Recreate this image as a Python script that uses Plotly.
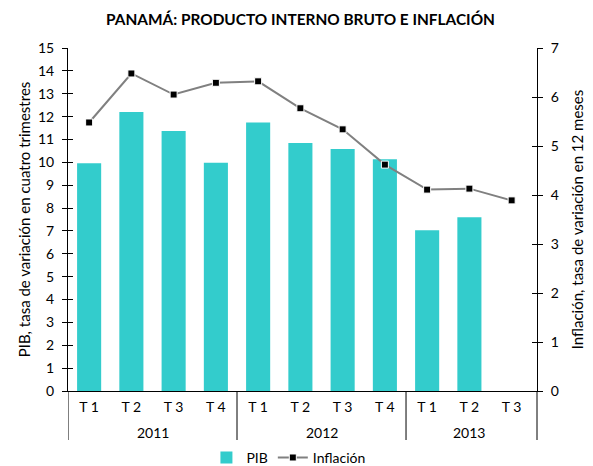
import plotly.graph_objects as go

years = ["2011"] * 4 + ["2012"] * 4 + ["2013"] * 3
quarters = ["T 1", "T 2", "T 3", "T 4", "T 1", "T 2", "T 3", "T 4", "T 1", "T 2", "T 3"]
pib = [9.96, 12.2, 11.37, 9.98, 11.74, 10.85, 10.58, 10.13, 7.03, 7.6, None]
inflacion = [5.48, 6.48, 6.05, 6.29, 6.32, 5.77, 5.34, 4.62, 4.11, 4.13, 3.89]

font_family = "Lato, 'Open Sans', sans-serif"

# page has an 8px body margin, so the figure is drawn 8px smaller and offset
W, H = 585, 458
plot_h = H - 40 - 75

idx = list(range(len(quarters)))

fig = go.Figure()
fig.add_trace(go.Bar(
    x=idx, y=pib, name="PIB",
    marker=dict(color="#33CCCC", line=dict(width=0)),
    width=0.57,
    yaxis="y",
))
fig.add_trace(go.Scatter(
    x=idx, y=inflacion, name="Inflación",
    mode="lines+markers",
    line=dict(color="#808080", width=2),
    marker=dict(symbol="square", size=7, color="black", line=dict(color="white", width=1)),
    yaxis="y2",
))

# year group labels and dividers
annotations = []
shapes = []
groups = []
for i, yv in enumerate(years):
    if not groups or groups[-1][0] != yv:
        groups.append([yv, i, i])
    else:
        groups[-1][2] = i
div_bottom = -(440 - 391) / plot_h
for name, a, b in groups:
    annotations.append(dict(
        x=(a + b) / 2, y=-(432 - 391) / plot_h, xref="x", yref="paper",
        text=name, showarrow=False, xanchor="center", yanchor="middle",
        font=dict(size=14, family=font_family, color="black"),
    ))
    shapes.append(dict(type="line", xref="x", yref="paper",
                       x0=a - 0.5, x1=a - 0.5, y0=0, y1=div_bottom,
                       line=dict(color="black", width=1)))
shapes.append(dict(type="line", xref="paper", yref="paper",
                   x0=1, x1=1, y0=0, y1=div_bottom,
                   line=dict(color="black", width=1)))

fig.update_layout(
    width=W, height=H,
    margin=dict(l=60, r=56, t=40, b=75, autoexpand=False),
    paper_bgcolor="white", plot_bgcolor="white",
    font=dict(family=font_family, size=14, color="black"),
    title=dict(text="<b>PANAMÁ: PRODUCTO INTERNO BRUTO E INFLACIÓN</b>",
               x=0.5, xanchor="center", y=1 - 12 / H, yanchor="middle",
               font=dict(size=15.4, family=font_family)),
    showlegend=True,
    legend=dict(orientation="h", x=0.47, xanchor="center", y=-0.195, yanchor="middle",
                font=dict(size=14), traceorder="normal", itemwidth=30),
    annotations=annotations,
    shapes=shapes,
    xaxis=dict(
        range=[-0.5, 10.6], automargin=False,
        tickvals=idx, ticktext=quarters,
        showline=True, linecolor="black", linewidth=1,
        ticks="", ticklabelstandoff=3,
        tickfont=dict(size=14),
        showgrid=False, zeroline=False,
    ),
    yaxis=dict(
        range=[0, 15], dtick=1, showgrid=False, zeroline=False, automargin=False,
        showline=True, linecolor="black", linewidth=1,
        ticks="inside", ticklen=5, tickcolor="black", ticklabelstandoff=10,
        title=dict(text="PIB, tasa de variación en cuatro trimestres", font=dict(size=15), standoff=3),
        tickfont=dict(size=14),
    ),
    yaxis2=dict(
        range=[0, 7], dtick=1, overlaying="y", side="right", automargin=False,
        showgrid=False, zeroline=False,
        showline=True, linecolor="black", linewidth=1,
        ticks="inside", ticklen=5, tickcolor="black", ticklabelstandoff=10,
        title=dict(text="Inflación, tasa de variación en 12 meses", font=dict(size=15), standoff=14),
        tickfont=dict(size=14),
    ),
    yaxis3=dict(
        range=[0, 15], dtick=1, overlaying="y", side="left", automargin=False,
        showgrid=False, zeroline=False, showline=False, showticklabels=False,
        ticks="outside", ticklen=5, tickcolor="black",
    ),
    yaxis4=dict(
        range=[0, 7], dtick=1, overlaying="y", side="right", automargin=False,
        showgrid=False, zeroline=False, showline=False, showticklabels=False,
        ticks="outside", ticklen=5, tickcolor="black",
    ),
)

# invisible helper traces so the outside-tick axes are drawn
fig.add_trace(go.Scatter(x=[idx[0]], y=[0], yaxis="y3", mode="markers",
                         marker=dict(opacity=0), showlegend=False, hoverinfo="skip"))
fig.add_trace(go.Scatter(x=[idx[0]], y=[0], yaxis="y4", mode="markers",
                         marker=dict(opacity=0), showlegend=False, hoverinfo="skip"))

fig.write_html("out.html")
